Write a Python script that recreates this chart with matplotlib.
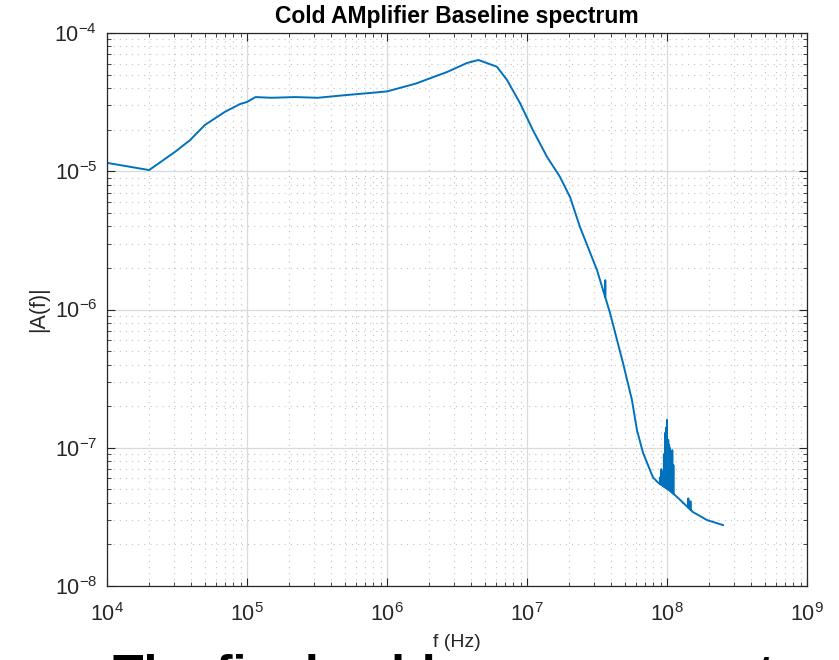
import numpy as np
import matplotlib
matplotlib.use("Agg")
import matplotlib.pyplot as plt
from matplotlib.ticker import LogLocator, NullFormatter

plt.rcParams['font.family'] = ['Liberation Sans', 'DejaVu Sans']
plt.rcParams['mathtext.fontset'] = 'custom'
plt.rcParams['mathtext.rm'] = 'Liberation Sans'
plt.rcParams['mathtext.it'] = 'Liberation Sans:italic'
plt.rcParams['axes.unicode_minus'] = False

# baseline spectrum
freq = [1e4, 2e4, 3.06e4, 3.92e4, 5.0e4, 6.96e4, 8.9e4, 1.0e5, 1.15e5,
        1.5e5, 2.2e5, 3.2e5, 5e5, 8e5, 1.0e6, 1.6e6, 2.68e6, 3.73e6,
        4.5e6, 6.1e6, 7.2e6, 8.9e6, 1.1e7, 1.39e7, 1.72e7, 2.03e7,
        2.39e7, 3.16e7, 3.6e7, 3.92e7, 4.85e7, 5.62e7, 6.1e7, 6.74e7,
        7.94e7, 8.63e7, 1.05e8, 1.24e8, 1.53e8, 1.93e8, 2.51e8]
amp = [1.15e-5, 1.02e-5, 1.38e-5, 1.68e-5, 2.16e-5, 2.69e-5, 3.06e-5,
       3.17e-5, 3.44e-5, 3.40e-5, 3.44e-5, 3.40e-5, 3.55e-5, 3.70e-5,
       3.78e-5, 4.3e-5, 5.22e-5, 6.07e-5, 6.38e-5, 5.7e-5, 4.57e-5,
       3.12e-5, 1.99e-5, 1.27e-5, 9.1e-6, 6.5e-6, 3.95e-6, 1.93e-6,
       1.25e-6, 9.4e-7, 4.1e-7, 2.21e-7, 1.34e-7, 9.2e-8, 6.1e-8,
       5.6e-8, 4.9e-8, 4.2e-8, 3.43e-8, 3.0e-8, 2.76e-8]

# narrow spurious spikes (frequency, peak)
spike_f = [3.62e7, 8.91e7, 9.1e7, 9.36e7, 9.5e7, 9.68e7, 9.85e7, 1.0e8,
           1.02e8, 1.035e8, 1.05e8, 1.07e8, 1.09e8, 1.11e8, 1.42e8, 1.47e8]
spike_a = [1.63e-6, 6.1e-8, 7.0e-8, 6.7e-8, 9.0e-8, 1.28e-7, 1.4e-7,
           1.59e-7, 1.14e-7, 1.05e-7, 9.95e-8, 8.5e-8, 9.6e-8, 7.5e-8,
           4.3e-8, 4.1e-8]

# merge spikes into the trace: go up at the spike and back to the baseline
lf = np.log10(freq)
la = np.log10(amp)
pts = list(zip(freq, amp))
for f, a in zip(spike_f, spike_a):
    base = 10 ** np.interp(np.log10(f), lf, la)
    pts += [(f * 0.999, base), (f, a), (f * 1.001, base)]
pts.sort()
x = [p[0] for p in pts]
y = [p[1] for p in pts]

fig = plt.figure(figsize=(8.39, 6.60), dpi=100)
ax = fig.add_axes([0.1275, 0.1121, 0.8344, 0.8379])

ax.loglog(x, y, color='#0072BD', lw=1.4)

ax.set_xlim(1e4, 1e9)
ax.set_ylim(1e-8, 1e-4)
ax.xaxis.set_major_locator(LogLocator(base=10, numticks=10))
ax.yaxis.set_major_locator(LogLocator(base=10, numticks=10))
ax.xaxis.set_minor_locator(LogLocator(base=10, subs=np.arange(2, 10), numticks=20))
ax.yaxis.set_minor_locator(LogLocator(base=10, subs=np.arange(2, 10), numticks=20))
ax.xaxis.set_minor_formatter(NullFormatter())
ax.yaxis.set_minor_formatter(NullFormatter())

ax.grid(True, which='major', color='#dadada', lw=0.9, ls='-')
ax.grid(True, which='minor', color='#c2c2c2', lw=0.8, ls=(0, (1, 4.5)))
ax.set_axisbelow(True)

ax.tick_params(which='both', direction='in', top=True, right=True,
               colors='#262626', labelsize=15.5)
ax.tick_params(which='major', length=6, width=0.8)
ax.tick_params(which='minor', length=3, width=0.6)
ax.tick_params(axis='x', which='major', pad=12)
ax.tick_params(axis='y', which='major', pad=7)
for s in ax.spines.values():
    s.set_color('#262626')
    s.set_linewidth(0.9)

ax.set_title('Cold AMplifier Baseline spectrum', fontsize=16.5,
             fontweight='bold', pad=7)
ax.set_xlabel('f (Hz)', fontsize=14, color='#262626', labelpad=6)
ax.set_ylabel('|A(f)|', fontsize=15.5, color='#262626', labelpad=4)

# slide text behind the chart, cut off at the bottom edge
fig.text(0.135, -0.046, 'The final cold measurement', fontsize=36,
         fontweight='bold', va='baseline', ha='left', color='black')

fig.savefig('out.png', dpi=100)
